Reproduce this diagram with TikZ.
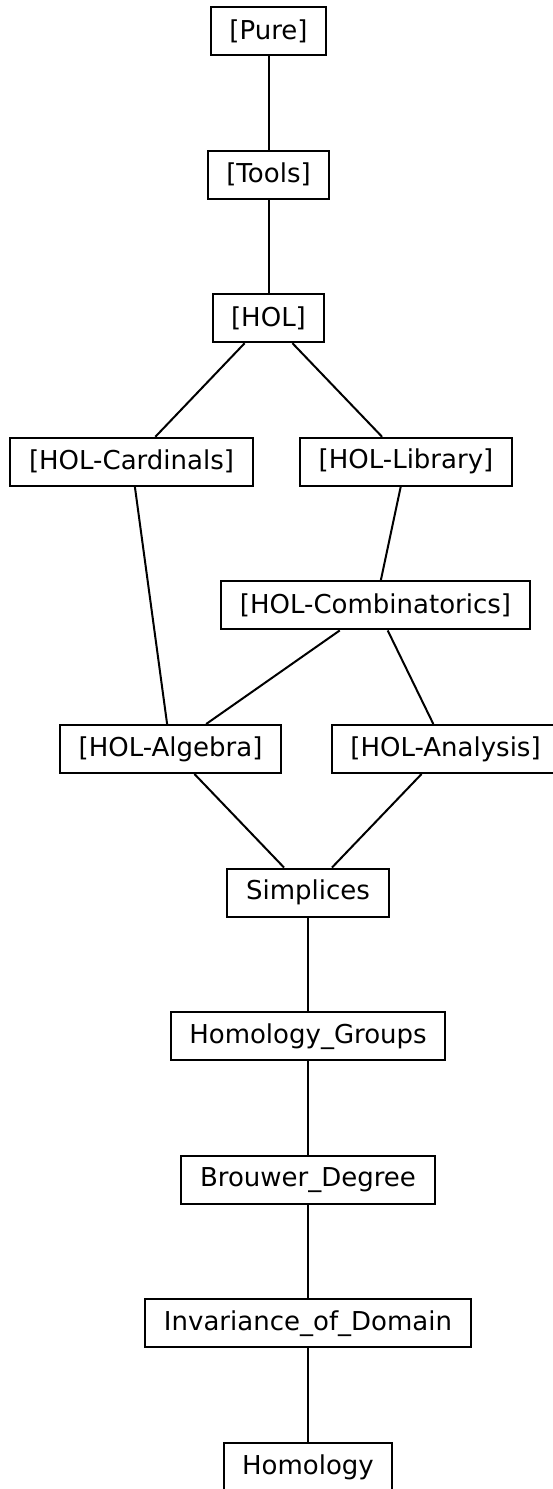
\documentclass[tikz,border=0pt]{standalone}
\usepackage{fontspec}
\setmainfont{DejaVu Sans}
\usetikzlibrary{positioning}

\begin{document}
\begin{tikzpicture}[node distance=46.8pt,
    thy/.style={rectangle, draw=black, line width=1pt, fill=white, inner xsep=9.3pt, minimum height=24pt, font=\fontsize{13}{15}\selectfont},
    dep/.style={line width=1pt}]
    \useasboundingbox (0,0) rectangle (276pt,-744.5pt);

    \node [thy] (pure) at (134.25pt,-15.5pt) {[Pure]};
    \node [thy, below=of pure] (tools) {[Tools]};
    \node [thy, below=of tools] (hol) {[HOL]};
    \node [thy, below=of hol, xshift=-68.5pt] (cardinals) {[HOL-Cardinals]};
    \node [thy, below=of hol, xshift=68.75pt] (library) {[HOL-Library]};
    \node [thy, below=of library, xshift=-15.25pt] (combinatorics) {[HOL-Combinatorics]};
    \node [thy, below=of combinatorics, xshift=-102.5pt] (algebra) {[HOL-Algebra]};
    \node [thy, below=of combinatorics, xshift=35pt] (analysis) {[HOL-Analysis]};
    \node [thy, below=of algebra, xshift=68.75pt] (simplices) {Simplices};
    \node [thy, below=of simplices] (groups) {Homology\_Groups};
    \node [thy, below=of groups] (degree) {Brouwer\_Degree};
    \node [thy, below=of degree] (domain) {Invariance\_of\_Domain};
    \node [thy, below=of domain] (homology) {Homology};

    \draw [dep] (pure) -- (tools);
    \draw [dep] (tools) -- (hol);
    \draw [dep] (hol) -- (cardinals);
    \draw [dep] (hol) -- (library);
    \draw [dep] (cardinals) -- (algebra);
    \draw [dep] (library) -- (combinatorics);
    \draw [dep] (combinatorics) -- (algebra);
    \draw [dep] (combinatorics) -- (analysis);
    \draw [dep] (algebra) -- (simplices);
    \draw [dep] (analysis) -- (simplices);
    \draw [dep] (simplices) -- (groups);
    \draw [dep] (groups) -- (degree);
    \draw [dep] (degree) -- (domain);
    \draw [dep] (domain) -- (homology);
\end{tikzpicture}
\end{document}
